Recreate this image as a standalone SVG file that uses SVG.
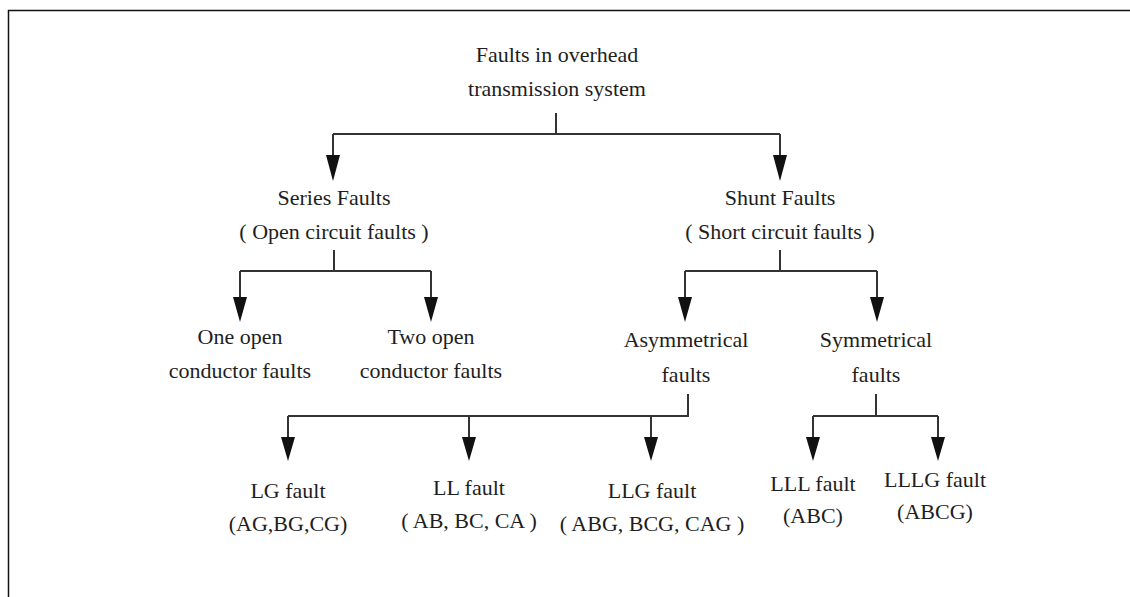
<svg xmlns="http://www.w3.org/2000/svg" width="1130" height="597" viewBox="0 0 1130 597">
<defs>
<style>
text{font-family:"Liberation Serif","Times New Roman",serif;font-size:22px;fill:#1e1e1e;text-anchor:middle}
.ln{fill:none;stroke:#333;stroke-width:2}
.hd{fill:#111}
</style>
</defs>
<rect width="1130" height="597" fill="#fff"/>
<path d="M8.5,597 V10.5 H1130" fill="none" stroke="#111" stroke-width="1.5"/>
<g id="connectors">
<path class="ln" d="M556,113 V134 M333,134 H780"/>
<path class="ln" d="M333,134 V156"/>
<path class="ln" d="M780,134 V156"/>
<path class="hd" d="M326,155 L340,155 L333,181 Z"/>
<path class="hd" d="M773,155 L787,155 L780,181 Z"/>
<path class="ln" d="M334,250 V271 M240,271 H431 M240,271 V298 M431,271 V298"/>
<path class="hd" d="M233,297 L247,297 L240,322 Z"/>
<path class="hd" d="M424,297 L438,297 L431,322 Z"/>
<path class="ln" d="M780,250 V271 M685,271 H877 M685,271 V298 M877,271 V298"/>
<path class="hd" d="M678,297 L692,297 L685,322 Z"/>
<path class="hd" d="M870,297 L884,297 L877,322 Z"/>
<path class="ln" d="M688,394 V416 H288 M288,416 V438 M469,416 V438 M651,416 V438"/>
<path class="hd" d="M281,437 L295,437 L288,461 Z"/>
<path class="hd" d="M462,437 L476,437 L469,461 Z"/>
<path class="hd" d="M644,437 L658,437 L651,461 Z"/>
<path class="ln" d="M876,394 V416 M813,416 H938 M813,416 V438 M938,416 V438"/>
<path class="hd" d="M806,437 L820,437 L813,461 Z"/>
<path class="hd" d="M931,437 L945,437 L938,461 Z"/>
</g>
<g id="root"><text x="557" y="62">Faults in overhead</text><text x="557" y="96">transmission system</text></g>
<g id="series"><text x="334" y="205">Series Faults</text><text x="334" y="239">( Open circuit faults )</text></g>
<g id="shunt"><text x="780" y="205">Shunt Faults</text><text x="780" y="239">( Short circuit faults )</text></g>
<g id="one-open"><text x="240" y="344">One open</text><text x="240" y="378">conductor faults</text></g>
<g id="two-open"><text x="431" y="344">Two open</text><text x="431" y="378">conductor faults</text></g>
<g id="asym"><text x="686" y="347">Asymmetrical</text><text x="686" y="382">faults</text></g>
<g id="sym"><text x="876" y="347">Symmetrical</text><text x="876" y="382">faults</text></g>
<g id="lg"><text x="288" y="498">LG fault</text><text x="288" y="531">(AG,BG,CG)</text></g>
<g id="ll"><text x="469" y="495">LL fault</text><text x="469" y="528">( AB, BC, CA )</text></g>
<g id="llg"><text x="652" y="498">LLG fault</text><text x="652" y="531">( ABG, BCG, CAG )</text></g>
<g id="lll"><text x="813" y="491">LLL fault</text><text x="813" y="523">(ABC)</text></g>
<g id="lllg"><text x="935" y="487">LLLG fault</text><text x="935" y="519">(ABCG)</text></g>
</svg>
